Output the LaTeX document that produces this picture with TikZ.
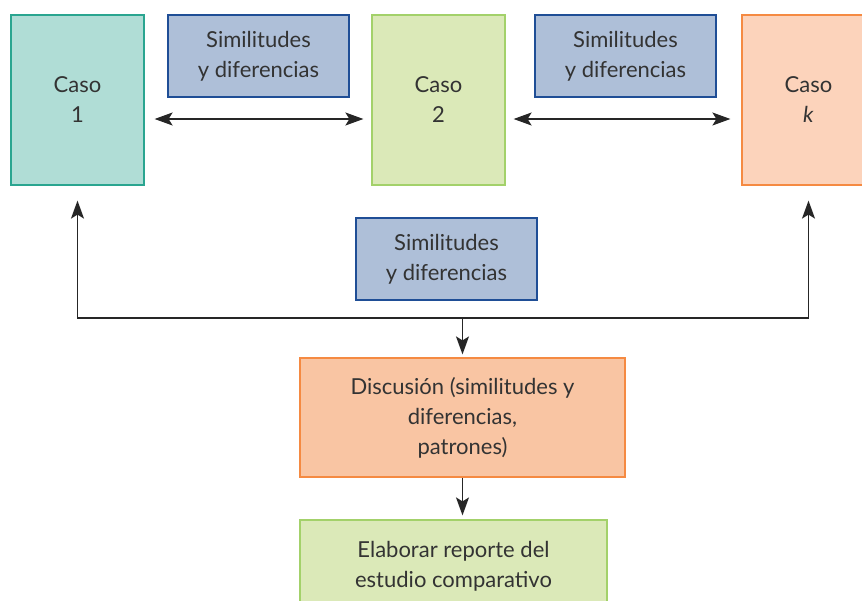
\documentclass[tikz,border=0pt]{standalone}
\usepackage{fontspec}
\setmainfont{Lato}
\usetikzlibrary{arrows.meta}
\definecolor{txt}{HTML}{333333}
\definecolor{tealfill}{HTML}{B0DDD6}
\definecolor{tealline}{HTML}{2AA590}
\definecolor{bluefill}{HTML}{AEBFD8}
\definecolor{blueline}{HTML}{1F4E96}
\definecolor{greenfill}{HTML}{DBE9B8}
\definecolor{greenline}{HTML}{A3D16A}
\definecolor{peachfill}{HTML}{FCD3BB}
\definecolor{orangefill}{HTML}{F9C5A3}
\definecolor{orangeline}{HTML}{F58A42}
\tikzset{
  box/.style={draw, rectangle, line width=1.2pt, align=center, text=txt,
    font=\fontsize{22}{30}\selectfont, inner sep=0pt},
  casobox/.style={box, minimum width=133pt, minimum height=170pt},
  simbox/.style={box, fill=bluefill, draw=blueline, minimum width=181pt, minimum height=82pt},
  tip/.tip={Stealth[length=18pt,width=13pt,inset=4pt]},
  arr/.style={-tip, line width=1.5pt, draw=black!85},
  biarr/.style={tip-tip, line width=1.5pt, draw=black!85}
}
\begin{document}
\begin{tikzpicture}[x=1pt,y=-1pt]
        \useasboundingbox (0,0) rectangle (862,600);
        \clip (0,0) rectangle (862,600);
        % Cases
        % Define the nodes
        \node[casobox, fill=tealfill, draw=tealline] (caso1) at (77.5,100) {Caso\\1};
        \node[casobox, fill=greenfill, draw=greenline] (caso2) at (438.5,100) {Caso\\2};
        \node[casobox, fill=peachfill, draw=orangeline] (casok) at (808.5,100) {Caso\\\textit{k}};
        \node[simbox] (sim1) at (258.5,56) {Similitudes\\y diferencias};
        \node[simbox] (sim2) at (625.5,56) {Similitudes\\y diferencias};
        % Connect the nodes
        \draw[biarr, shorten <=10pt, shorten >=8pt] ([yshift=-19pt]caso1.east) -- ([yshift=-19pt]caso2.west);
        \draw[biarr, shorten <=8pt, shorten >=11pt] ([yshift=-19pt]caso2.east) -- ([yshift=-19pt]casok.west);

        % Discussion
        % Define the nodes
        \node[simbox] (sim3) at (446.5,259) {Similitudes\\y diferencias};
        \coordinate (junc) at (462.5,318);
        \node[box, fill=orangefill, draw=orangeline, minimum width=325pt, minimum height=119pt] (disc) at (462.5,417.5) {Discusión (similitudes y\\diferencias,\\patrones)};
        \node[box, fill=greenfill, draw=greenline, minimum width=307pt, minimum height=92pt] (elab) at (453.5,566) {Elaborar reporte del\\estudio comparativo};
        % Connect the nodes
        \draw[line width=1.5pt, draw=black!70] (caso1.south |- junc) -- (casok.south |- junc);
        \draw[arr, shorten >=15pt] (junc) -| (caso1.south);
        \draw[arr, shorten >=15pt] (junc) -| (casok.south);
        \draw[arr, shorten >=3pt] (junc) -- (disc.north);
        \draw[arr, shorten >=4pt] (disc.south) -- (disc.south |- elab.north);
    \end{tikzpicture}
\end{document}
